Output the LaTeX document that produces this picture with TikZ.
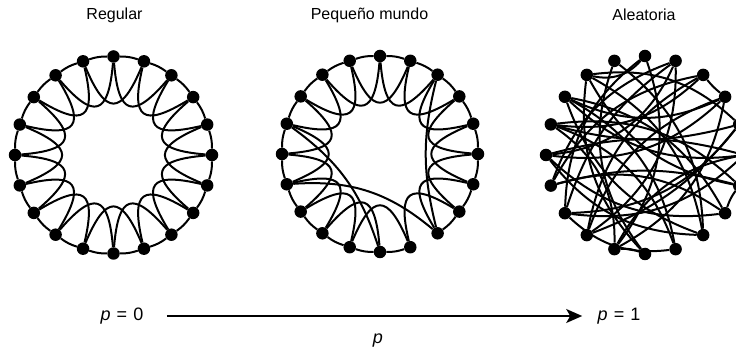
\documentclass[tikz,border=0pt]{standalone}
\usepackage{fontspec}
\setmainfont{Liberation Sans}
\usetikzlibrary{calc,arrows.meta}
\begin{document}
\begin{tikzpicture}[x=1pt,y=1pt,
  dot/.style={circle,fill=black,inner sep=0pt,minimum size=12.5pt},
  edge/.style={line width=2pt},
  title/.style={font=\fontsize{16}{19}\selectfont},
  plab/.style={font=\fontsize{18}{21}\selectfont}]
\useasboundingbox (0,0) rectangle (736,356);
% ---------- Regular ----------
\coordinate (rc) at (113.5,201);
\foreach \k in {0,...,19} \node[dot] (r\k) at ($(rc)+({90-18*\k}:98.5)$) {};
\foreach \k in {0,...,19}{
  \pgfmathtruncatemacro{\n}{mod(\k+1,20)}
  \pgfmathtruncatemacro{\m}{mod(\k+2,20)}
  \draw[edge] (r\k) to[bend left=9] (r\n);
  \draw[edge] (r\k) .. controls ($(rc)+({83-18*\k}:40)$) and ($(rc)+({61-18*\k}:40)$) .. (r\m);
}
% ---------- Small world ----------
\coordinate (sc) at (380,202);
\foreach \k in {0,...,19} \node[dot] (s\k) at ($(sc)+({90-18*\k}:98)$) {};
\foreach \k in {0,...,19}{
  \pgfmathtruncatemacro{\n}{mod(\k+1,20)}
  \pgfmathtruncatemacro{\m}{mod(\k+2,20)}
  \ifnum\k=8 \else
    \draw[edge] (s\k) to[bend left=9] (s\n);
    \draw[edge] (s\k) .. controls ($(sc)+({83-18*\k}:40)$) and ($(sc)+({61-18*\k}:40)$) .. (s\m);
  \fi
}
\draw[edge] (s16) to[bend left=18] (s10);
\draw[edge] (s14) to[bend left=22] (s8);
\draw[edge] (s2) to[bend right=14] (s8);
% ---------- Random ----------
\coordinate (ac) at (645,201);
\foreach \k in {0,...,19} \node[dot] (a\k) at ($(ac)+({90-18*\k}:99)$) {};
\foreach \ea/\eb/\ebend in {0/11/28, 0/13/-25, 19/10/-28, 19/8/25, 1/12/28, 1/13/-18, 1/14/-25,
  1/15/30, 2/3/-6, 2/16/25, 2/14/-25, 3/17/25, 3/12/-25, 4/16/15, 4/18/-25, 4/13/25,
  5/15/-15, 5/17/25, 5/11/-25, 6/7/-8, 6/16/-25, 6/18/25, 6/14/-15, 7/15/25, 7/17/-25,
  8/18/-25, 8/15/25, 9/17/-25, 9/13/25, 10/11/-12, 10/18/25, 11/3/-25, 12/4/-15,
  12/2/25, 13/5/-25, 14/7/25, 15/3/-25, 16/9/25, 17/8/-25, 18/0/-30, 16/11/28}{
  \draw[edge] (a\ea) to[bend left=\ebend] (a\eb);
}
% ---------- Labels ----------
\node[title] (t1) at (114.5,341) {Regular};
\node[title] (t2) at (369.5,341) {Pequeño mundo};
\node[title] (t3) at (644,341) {Aleatoria};
\node[plab] (p0) at (122,40) {\textit{p}\hspace{6pt}=\hspace{6pt}0};
\node[plab] (p1) at (619,40) {\textit{p}\hspace{6pt}=\hspace{6pt}1};
\node[plab] (pl) at (378,15) {\textit{p}};
\draw[line width=1.5pt,-{Stealth[length=16pt,width=14pt,inset=4pt]},shorten <=20pt,shorten >=12pt] (p0.east) -- (p1.west);
\end{tikzpicture}
\end{document}
